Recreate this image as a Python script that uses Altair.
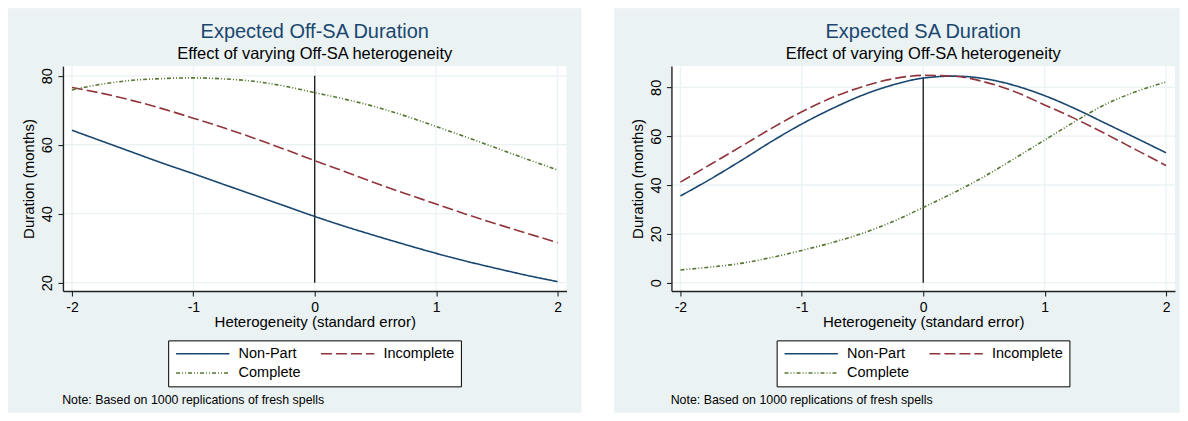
import altair as alt
import pandas as pd

# ---------------- data ----------------
x_vals = [-2, -1.75, -1.5, -1.25, -1, -0.75, -0.5, -0.25, 0,
          0.25, 0.5, 0.75, 1, 1.25, 1.5, 1.75, 2]
series_names = ["Non-Part", "Incomplete", "Complete"]

# Left panel: Expected Off-SA Duration
off_nonpart = [64.2, 61.0, 57.8, 54.6, 51.6, 48.5, 45.4, 42.3, 39.2,
               36.3, 33.6, 31.0, 28.5, 26.2, 24.1, 22.1, 20.3]
off_incomplete = [76.6, 74.9, 72.8, 70.4, 67.7, 64.9, 61.9, 58.7, 55.4,
                  52.2, 48.9, 45.8, 42.8, 39.8, 37.0, 34.3, 31.6]
off_complete = [75.9, 77.6, 78.7, 79.2, 79.4, 79.1, 78.4, 77.0, 75.1,
                73.2, 71.0, 68.3, 65.3, 62.2, 59.0, 55.8, 52.7]

# Right panel: Expected SA Duration
sa_nonpart = [35.5, 42.5, 50.0, 57.8, 65.0, 71.3, 76.8, 81.0, 83.8,
              84.6, 83.6, 80.8, 76.6, 71.3, 65.3, 59.3, 53.2]
sa_incomplete = [41.2, 48.5, 55.8, 63.2, 70.0, 75.8, 80.3, 83.5, 84.9,
                 84.6, 82.3, 78.3, 72.8, 67.2, 61.0, 54.5, 48.0]
sa_complete = [5.2, 6.4, 7.9, 10.3, 13.2, 16.4, 20.2, 25.0, 30.8,
               36.8, 43.4, 50.8, 58.4, 66.0, 73.0, 78.2, 82.2]

x_ticks = [-2, -1, 0, 1, 2]
off_y_ticks = [20, 40, 60, 80]
sa_y_ticks = [0, 20, 40, 60, 80]
off_vline = [20, 80]
sa_vline = [0, 84.2]

titles = ["Expected Off-SA Duration", "Expected SA Duration"]
subtitle = "Effect of varying Off-SA heterogeneity"
x_title = "Heterogeneity (standard error)"
y_title = "Duration (months)"
note_text = "Note: Based on 1000 replications of fresh spells"

# ---------------- styles ----------------
FONT = "Liberation Sans"
colors = ["#1a476f", "#90353b", "#55752f"]
dashes = [[1, 0], [11, 4], [4, 2, 1, 2, 1, 2]]
BG = "#eaf2f3"
W, H = 504, 225


def long_df(lists):
    rows = []
    for name, vals in zip(series_names, lists):
        for xv, yv in zip(x_vals, vals):
            rows.append({"x": xv, "y": yv, "series": name})
    return pd.DataFrame(rows)


def panel(title, lists, ydom, yticks, vline, rect_x, rect_x2):
    one = pd.DataFrame({"a": [0]})
    xscale = alt.Scale(domain=[-2.074, 2.074], nice=False, zero=False)
    yscale = alt.Scale(domain=ydom, nice=False, zero=False)
    xaxis = alt.Axis(values=x_ticks, title=x_title, grid=False,
                     labelExpr="datum.value < 0 ? '-' + (-datum.value) : '' + datum.value",
                     zindex=1, tickSize=5, tickColor="#222", tickWidth=1.1,
                     domainColor="#222", domainWidth=1.4,
                     labelPadding=5, labelFontSize=14, labelColor="black",
                     labelFont=FONT, titleFont=FONT,
                     titleFontSize=15, titleFontWeight="normal",
                     titleColor="black", titleBaseline="alphabetic",
                     titleY=36)
    yaxis = alt.Axis(values=yticks, title=y_title, grid=False, zindex=1,
                     tickSize=5, tickColor="#222", tickWidth=1.1,
                     domainColor="#222", domainWidth=1.4,
                     labelAngle=270, labelAlign="center",
                     labelBaseline="alphabetic", labelPadding=6,
                     labelFontSize=14.5, labelColor="black",
                     labelFont=FONT, titleFont=FONT,
                     titleFontSize=15, titleFontWeight="normal",
                     titleColor="black", titleAngle=270,
                     titleBaseline="alphabetic", titleAlign="center",
                     titleX=-29, titleY=H / 2)
    X = alt.X("x:Q", scale=xscale, axis=xaxis)
    Y = alt.Y("y:Q", scale=yscale, axis=yaxis)

    bg = alt.Chart(one).mark_rect(color=BG).encode(
        x=alt.value(rect_x), x2=alt.value(rect_x2),
        y=alt.value(-58), y2=alt.value(347))
    plot_bg = alt.Chart(one).mark_rect(color="white").encode(
        x=alt.value(0), x2=alt.value(W), y=alt.value(0), y2=alt.value(H))
    xgrid = alt.Chart(pd.DataFrame({"x": x_ticks})).mark_rule(
        color=BG, strokeWidth=1.3).encode(x=X)
    ygrid = alt.Chart(pd.DataFrame({"y": yticks})).mark_rule(
        color=BG, strokeWidth=1.3).encode(y=Y)
    vl = alt.Chart(pd.DataFrame({"x": [0], "y": [vline[0]], "y2": [vline[1]]})).mark_rule(
        color="black", strokeWidth=1.2).encode(x=X, y=Y, y2="y2:Q")

    leg = alt.Legend(orient="none", legendX=105.3, legendY=274.5, columns=2,
                     direction="horizontal", title=None,
                     symbolType="M-1,0H9", symbolSize=114,
                     symbolStrokeWidth=1.5,
                     labelFontSize=14.5, labelFont=FONT, labelColor="black",
                     labelOffset=50, columnPadding=16, rowPadding=4.5, padding=6,
                     strokeColor="black", fillColor="white", labelLimit=0)
    lines = alt.Chart(long_df(lists)).mark_line(
        strokeWidth=1.6, interpolate="monotone").encode(
        x=X, y=Y,
        color=alt.Color("series:N", scale=alt.Scale(domain=series_names, range=colors),
                        legend=leg),
        strokeDash=alt.StrokeDash("series:N",
                                  scale=alt.Scale(domain=series_names, range=dashes),
                                  legend=leg),
    )
    note = alt.Chart(one).mark_text(align="left", baseline="alphabetic",
                                    fontSize=12.4, font=FONT, color="black").encode(
        x=alt.value(-0.8), y=alt.value(338), text=alt.value(note_text))

    return alt.layer(bg, plot_bg, xgrid, ygrid, vl, lines, note).properties(
        width=W, height=H,
        title=alt.TitleParams(text=title, subtitle=subtitle, fontSize=20,
                              fontWeight="normal", color="#1a476f", font=FONT,
                              subtitleFont=FONT, subtitleFontSize=16.5,
                              subtitleColor="black", subtitlePadding=4.5,
                              anchor="middle", frame="group", offset=-54.5))


left = panel(titles[0], [off_nonpart, off_incomplete, off_complete],
             [17.6, 82.8], off_y_ticks, off_vline, -55, 519)
right = panel(titles[1], [sa_nonpart, sa_incomplete, sa_complete],
              [-3.4, 88.7], sa_y_ticks, sa_vline, -57.3, 508.7)

chart = alt.hconcat(left, right, spacing=32).resolve_scale(
    color="independent", strokeDash="independent").resolve_legend(
    color="independent", strokeDash="independent").properties(
    padding={"left": 0, "top": 0, "right": 0, "bottom": 0},
    background="white").configure(font=FONT).configure_view(stroke=None)

chart.save("out.html", embed_options={"renderer": "svg", "actions": False})
